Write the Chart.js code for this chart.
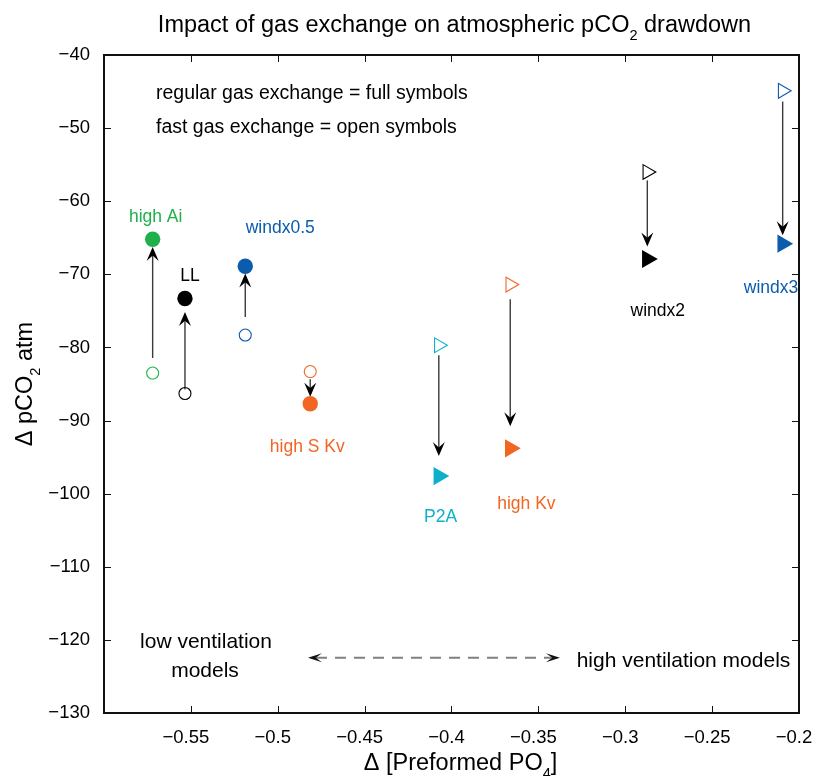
<!DOCTYPE html>
<html><head><meta charset="utf-8">
<script src="https://cdn.jsdelivr.net/npm/chart.js@4.4.1/dist/chart.umd.min.js"></script>
<style>html,body{margin:0;padding:0;background:#fff}#wrap{width:814px;height:776px;position:relative}</style>
</head><body><div id="wrap"><canvas id="c" width="814" height="776"></canvas></div>
<script>
// ---- data ----
const models = ['high Ai','LL','windx0.5','high S Kv','P2A','high Kv','windx2','windx3'];
const dPO4 = [-0.572,-0.5534,-0.5187,-0.4813,-0.4073,-0.3662,-0.2873,-0.2094];
const pco2Regular = [-65.2,-73.3,-68.9,-87.7,-97.6,-93.8,-67.9,-65.8];
const pco2Fast = [-83.5,-86.3,-78.3,-83.3,-79.7,-71.4,-56.0,-44.9];
const xTicks = [-0.55,-0.5,-0.45,-0.4,-0.35,-0.3,-0.25,-0.2];
const yTicks = [-40,-50,-60,-70,-80,-90,-100,-110,-120,-130];
const ventArrowX = [-0.4826,-0.3376];
const ventArrowY = -122.44;

// ---- styles ----
const FONT = '"Liberation Sans", Arial, Helvetica, sans-serif';
const colors = ['#20b04b','#000000','#0b5cad','#f26522','#0db0c9','#f26522','#000000','#0b5cad'];
const shapes = ['circle','circle','circle','circle','triangle','triangle','triangle','triangle'];
const labelDx = [3,5,35,-3,1.8,16.2,10.5,-11.6];
const labelDy = [-24,-24,-40,42,40,54,51,43];
const gapStart = [15,4,18,7.6,10,14.6,8.4,10.7];
const gapEnd = [7.7,13.6,7.3,7,20,22,12.6,8.3];

function fmt(v){ return String(+(+v).toFixed(2)).replace('-', '\u2212'); }

function richText(ctx, parts, x, y, size, align){
  let w = 0;
  parts.forEach(p => { ctx.font = (p.sub ? size*0.62 : size) + 'px ' + FONT; p.w = ctx.measureText(p.t).width; w += p.w; });
  let sx = align === 'center' ? x - w/2 : x;
  parts.forEach(p => {
    ctx.font = (p.sub ? size*0.62 : size) + 'px ' + FONT;
    ctx.fillText(p.t, sx, p.sub ? y + size*0.36 : y);
    sx += p.w;
  });
}

function head(ctx, tx, ty, ang, len, hw, notch, color){
  ctx.save(); ctx.translate(tx, ty); ctx.rotate(ang);
  ctx.beginPath(); ctx.moveTo(0,0); ctx.lineTo(-len,-hw); ctx.lineTo(-len*notch,0); ctx.lineTo(-len,hw); ctx.closePath();
  ctx.fillStyle = color; ctx.fill(); ctx.restore();
}

const decor = {
  id: 'decor',
  beforeDatasetsDraw(chart){
    const ctx = chart.ctx, xs = chart.scales.x, ys = chart.scales.y;
    ctx.save();
    models.forEach((m,i) => {
      const x = xs.getPixelForValue(dPO4[i]);
      const yo = ys.getPixelForValue(pco2Fast[i]);
      const yf = ys.getPixelForValue(pco2Regular[i]);
      const dir = Math.sign(yf - yo);
      const y0 = yo + dir*gapStart[i];
      const y1 = yf - dir*gapEnd[i];
      ctx.strokeStyle = '#3a3a3a'; ctx.lineWidth = 1.4;
      ctx.beginPath(); ctx.moveTo(x, y0); ctx.lineTo(x, y1 - dir*7); ctx.stroke();
      head(ctx, x, y1, dir > 0 ? Math.PI/2 : -Math.PI/2, 14, 6, 0.62, '#000');
    });
    // ventilation dashed double arrow
    const xa = xs.getPixelForValue(ventArrowX[0]), xb = xs.getPixelForValue(ventArrowX[1]);
    const ya = ys.getPixelForValue(ventArrowY);
    ctx.strokeStyle = '#808080'; ctx.lineWidth = 2; ctx.setLineDash([11,8]);
    ctx.beginPath(); ctx.moveTo(xa + 8, ya); ctx.lineTo(xb - 8, ya); ctx.stroke();
    ctx.setLineDash([]);
    head(ctx, xa, ya, Math.PI, 14, 4.5, 0.55, '#111');
    head(ctx, xb, ya, 0, 14, 4.5, 0.55, '#111');
    ctx.restore();
  },
  afterDraw(chart){
    const ctx = chart.ctx, a = chart.chartArea, xs = chart.scales.x, ys = chart.scales.y;
    ctx.save();
    // frame
    ctx.strokeStyle = '#111'; ctx.lineWidth = 2;
    ctx.strokeRect(a.left, a.top, a.right - a.left, a.bottom - a.top);
    // inward ticks
    ctx.lineWidth = 1; ctx.strokeStyle = '#111';
    ctx.beginPath();
    xTicks.forEach(v => {
      const px = Math.round(xs.getPixelForValue(v)) + 0.5;
      ctx.moveTo(px, a.bottom); ctx.lineTo(px, a.bottom - 7);
      ctx.moveTo(px, a.top); ctx.lineTo(px, a.top + 7);
    });
    yTicks.forEach(v => {
      const py = Math.round(ys.getPixelForValue(v)) + 0.5;
      ctx.moveTo(a.left, py); ctx.lineTo(a.left + 7, py);
      ctx.moveTo(a.right, py); ctx.lineTo(a.right - 7, py);
    });
    ctx.stroke();
    // series labels
    ctx.textAlign = 'center'; ctx.textBaseline = 'alphabetic';
    ctx.font = '17.5px ' + FONT;
    models.forEach((m,i) => {
      const x = xs.getPixelForValue(dPO4[i]) + labelDx[i];
      const y = ys.getPixelForValue(pco2Regular[i]) + labelDy[i];
      ctx.fillStyle = colors[i];
      ctx.fillText(m, x, y + 6.3);
    });
    // title
    ctx.fillStyle = '#000'; ctx.textAlign = 'left';
    const cx = (a.left + a.right)/2;
    richText(ctx, [{t:'Impact of gas exchange on atmospheric pCO'},{t:'2',sub:true},{t:' drawdown'}], cx + 3, 32, 23.5, 'center');
    // x title
    richText(ctx, [{t:'\u0394 [Preformed PO'},{t:'4',sub:true},{t:']'}], cx + 9, 770, 23.5, 'center');
    // y title
    ctx.save(); ctx.translate(32, (a.top + a.bottom)/2); ctx.rotate(-Math.PI/2);
    richText(ctx, [{t:'\u0394 pCO'},{t:'2',sub:true},{t:' atm'}], 0, 0, 23.5, 'center');
    ctx.restore();
    // annotation texts
    ctx.font = '19.5px ' + FONT; ctx.textAlign = 'left';
    ctx.fillText('regular gas exchange = full symbols', 156, 99);
    ctx.fillText('fast gas exchange = open symbols', 156, 133.3);
    ctx.font = '21px ' + FONT; ctx.textAlign = 'center';
    ctx.fillText('low ventilation', 206, 648.3);
    ctx.fillText('models', 205, 676.7);
    ctx.fillText('high ventilation models', 683.5, 667);
    ctx.restore();
  }
};

Chart.defaults.font.family = FONT;
Chart.defaults.color = '#000';

new Chart(document.getElementById('c'), {
  type: 'scatter',
  data: {
    datasets: [
      {
        label: 'regular gas exchange',
        data: dPO4.map((x,i) => ({x: x, y: pco2Regular[i]})),
        pointStyle: shapes,
        pointRotation: shapes.map(s => s === 'triangle' ? 90 : 0),
        pointRadius: shapes.map(s => s === 'triangle' ? 10.5 : 7.7),
        pointHoverRadius: shapes.map(s => s === 'triangle' ? 10.5 : 7.7),
        pointBackgroundColor: colors,
        pointBorderColor: colors,
        pointBorderWidth: 0
      },
      {
        label: 'fast gas exchange',
        data: dPO4.map((x,i) => ({x: x, y: pco2Fast[i]})),
        pointStyle: shapes,
        pointRotation: shapes.map(s => s === 'triangle' ? 90 : 0),
        pointRadius: shapes.map(s => s === 'triangle' ? 8.5 : 6),
        pointHoverRadius: shapes.map(s => s === 'triangle' ? 8.5 : 6),
        pointBackgroundColor: 'rgba(255,255,255,0)',
        pointBorderColor: colors,
        pointBorderWidth: 1.1
      }
    ]
  },
  options: {
    responsive: false,
    devicePixelRatio: 1,
    animation: false,
    events: [],
    layout: { padding: { top: 55, right: 15, left: 0, bottom: 0 } },
    plugins: { legend: { display: false }, tooltip: { enabled: false }, title: { display: false } },
    scales: {
      x: {
        type: 'linear', min: -0.6, max: -0.2,
        grid: { display: false }, border: { display: false },
        afterBuildTicks: s => { s.ticks = xTicks.map(v => ({value: v})); },
        afterFit: s => { s.height = 63; s.paddingLeft = 0; s.paddingRight = 0; },
        ticks: { autoSkip: false, maxRotation: 0, padding: 6, labelOffset: -5, color: '#000', font: { size: 18.5 }, callback: v => fmt(v) }
      },
      y: {
        type: 'linear', min: -130, max: -40,
        grid: { display: false }, border: { display: false },
        afterBuildTicks: s => { s.ticks = yTicks.map(v => ({value: v})); },
        afterFit: s => { s.width = 104; s.paddingTop = 0; s.paddingBottom = 0; },
        ticks: { autoSkip: false, padding: 6, color: '#000', font: { size: 18.5 }, callback: v => fmt(v) }
      }
    }
  },
  plugins: [decor]
});
</script>
</body></html>
